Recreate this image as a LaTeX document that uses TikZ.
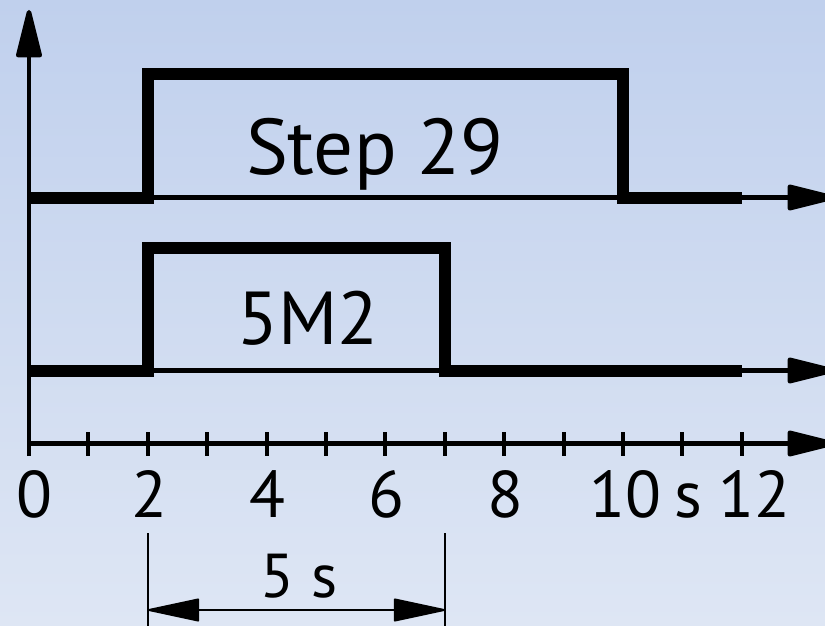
\documentclass[tikz,border=0pt]{standalone}
\usepackage{fontspec}
\setmainfont{PT Sans}
\usetikzlibrary{arrows.meta}
\definecolor{bgtop}{RGB}{192,208,237}
\definecolor{bgbottom}{RGB}{222,230,244}
\begin{document}
\begin{tikzpicture}[x=1pt,y=-1pt,
  axisline/.style={line width=4.5pt,line join=round,
    -{Triangle[length=55pt,width=26pt,round]}},
  tickline/.style={line width=4pt},
  signal/.style={line width=12pt,line join=miter,line cap=butt},
  dimline/.style={line width=2pt},
  dimarrow/.style={line width=2pt,
    {Triangle[length=55pt,width=23pt,round]}-{Triangle[length=55pt,width=23pt,round]}},
  ticklabel/.style={anchor=base,inner sep=0pt,font=\fontsize{66}{66}\selectfont},
  signame/.style={anchor=base,inner sep=0pt}]
  % background
  \useasboundingbox (0,0) rectangle (825,626);
  \clip (0,0) rectangle (825,626);
  \shade[top color=bgtop,bottom color=bgbottom] (0,0) rectangle (825,626);

  % axes
  \coordinate (origin) at (29,456);
  \coordinate (ytop) at (29,10);
  \coordinate (t0) at (29,443.5);
  \coordinate (tend) at (835,443.5);
  \draw[axisline] (origin) -- (ytop);
  \draw[axisline] (t0) -- (tend);

  % ticks, one per second
  \foreach \t in {1,...,12}{
    \coordinate (tk\t a) at ({29+59.4*\t},432);
    \coordinate (tk\t b) at ({29+59.4*\t},456);
    \draw[tickline] (tk\t a) -- (tk\t b);
  }

  % tick labels
  \node[ticklabel] (l0) at (34,517) {0};
  \node[ticklabel] (l2) at (149,517) {2};
  \node[ticklabel] (l4) at (267,517) {4};
  \node[ticklabel] (l6) at (386,517) {6};
  \node[ticklabel] (l8) at (505,517) {8};
  \node[ticklabel] (l10) at (625,517) {10};
  \node[ticklabel] (ls) at (688,517) {s};
  \node[ticklabel] (l12) at (754,517) {12};

  % row baselines
  \coordinate (r1a) at (29,197.5);
  \coordinate (r1b) at (835,197.5);
  \coordinate (r2a) at (29,370.5);
  \coordinate (r2b) at (835,370.5);
  \draw[axisline] (r1a) -- (r1b);
  \draw[axisline] (r2a) -- (r2b);

  % Step 29 signal
  \coordinate (s1) at (29,197.5);
  \coordinate (s2) at (148,197.5);
  \coordinate (s3) at (148,74);
  \coordinate (s4) at (623,74);
  \coordinate (s5) at (623,197.5);
  \coordinate (s6) at (742,197.5);
  \draw[signal] (s1) -- (s2) -- (s3) -- (s4) -- (s5) -- (s6);
  \node[signame,font=\fontsize{79}{79}\selectfont] (step) at (375,174) {Step 29};

  % 5M2 signal
  \coordinate (m1) at (29,370.5);
  \coordinate (m2) at (148,370.5);
  \coordinate (m3) at (148,248);
  \coordinate (m4) at (445,248);
  \coordinate (m5) at (445,370.5);
  \coordinate (m6) at (742,370.5);
  \draw[signal] (m1) -- (m2) -- (m3) -- (m4) -- (m5) -- (m6);
  \node[signame,font=\fontsize{75}{75}\selectfont] (valve) at (308,344) {5M2};

  % 5 s dimension
  \coordinate (d1a) at (148,533);
  \coordinate (d1b) at (148,630);
  \coordinate (d2a) at (445,533);
  \coordinate (d2b) at (445,630);
  \coordinate (da) at (148,610);
  \coordinate (db) at (445,610);
  \draw[dimline] (d1a) -- (d1b);
  \draw[dimline] (d2a) -- (d2b);
  \draw[dimarrow] (da) -- (db);
  \node[ticklabel,font=\fontsize{62}{62}\selectfont] (dur) at (299,597) {5 s};
\end{tikzpicture}
\end{document}
